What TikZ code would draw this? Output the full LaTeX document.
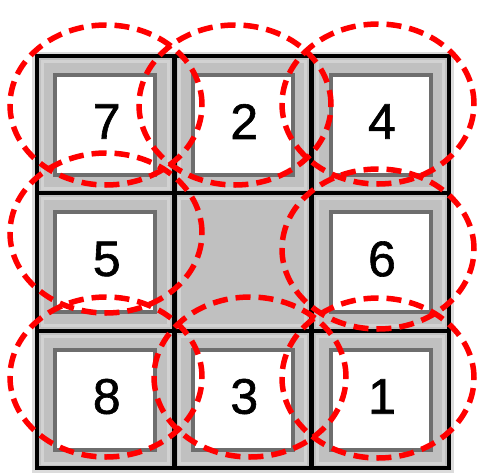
\documentclass[tikz,border=0pt]{standalone}
\usepackage{fontspec}
\setmainfont{Liberation Sans}
\newfontfamily\digitfont[FakeBold=1.2]{Liberation Sans}
\usetikzlibrary{shapes.geometric}
\definecolor{tilegray}{HTML}{C0C0C0}
\definecolor{bandgray}{HTML}{D2D2D2}
\definecolor{framegray}{HTML}{DCDCDC}
\definecolor{facegray}{HTML}{6E6E6E}
\definecolor{ovalred}{HTML}{FF0000}
\tikzset{
  cell/.style={rectangle, draw=black, line width=4pt, fill=tilegray,
    minimum width=136.5pt, minimum height=137.5pt, inner sep=0pt},
  band/.style={rectangle, draw=bandgray, line width=3pt,
    minimum width=126pt, minimum height=127pt, inner sep=0pt},
  face/.style={rectangle, draw=facegray, line width=4pt, fill=white,
    minimum width=100pt, minimum height=100pt, inner sep=0pt},
  digit/.style={inner sep=0pt, font=\digitfont\fontsize{50}{50}\selectfont},
  oval/.style={ellipse, draw=ovalred, line width=5.5pt,
    dash pattern=on 15pt off 8pt, minimum width=192pt, minimum height=160pt, inner sep=0pt}
}
\begin{document}
\begin{tikzpicture}[x=1pt,y=-1pt]
\useasboundingbox (0,0) rectangle (477,472);
\fill[white] (0,0) rectangle (477,472);
\node[rectangle, fill=framegray, minimum width=422pt, minimum height=422pt, inner sep=0pt] (frame) at (243,263) {};
% cells
\foreach \c/\x in {1/105.25,2/242.75,3/380.5}{
  \foreach \r/\y in {1/124.5,2/262,3/399.5}{
    \node[cell] (cell\r\c) at (\x,\y) {};
  }
}
\foreach \c/\x in {1/105.25,2/242.75,3/380.5}{
  \foreach \r/\y in {1/124.5,2/262,3/399.5}{
    \node[band] (band\r\c) at (\x,\y) {};
  }
}
% faces and digits
\foreach \r/\c/\x/\y/\d in {1/1/105.25/124.5/7, 1/2/242.75/124.5/2, 1/3/380.5/124.5/4,
  2/1/105.25/262/5, 2/3/380.5/262/6,
  3/1/105.25/399.5/8, 3/2/242.75/399.5/3, 3/3/380.5/399.5/1}{
  \node[face] (face\r\c) at (\x,\y) {};
  \node[digit] (digit\r\c) at ([xshift=1.5pt,yshift=3pt]face\r\c.center) {\d};
}
% ovals
\node[oval] (oval7) at (106,105) {};
\node[oval] (oval2) at (235,105) {};
\node[oval] (oval4) at (378,104) {};
\node[oval] (oval5) at (106,233) {};
\node[oval] (oval6) at (378,249) {};
\node[oval] (oval8) at (106,377) {};
\node[oval] (oval3) at (250,377) {};
\node[oval] (oval1) at (378,378) {};
\end{tikzpicture}
\end{document}
